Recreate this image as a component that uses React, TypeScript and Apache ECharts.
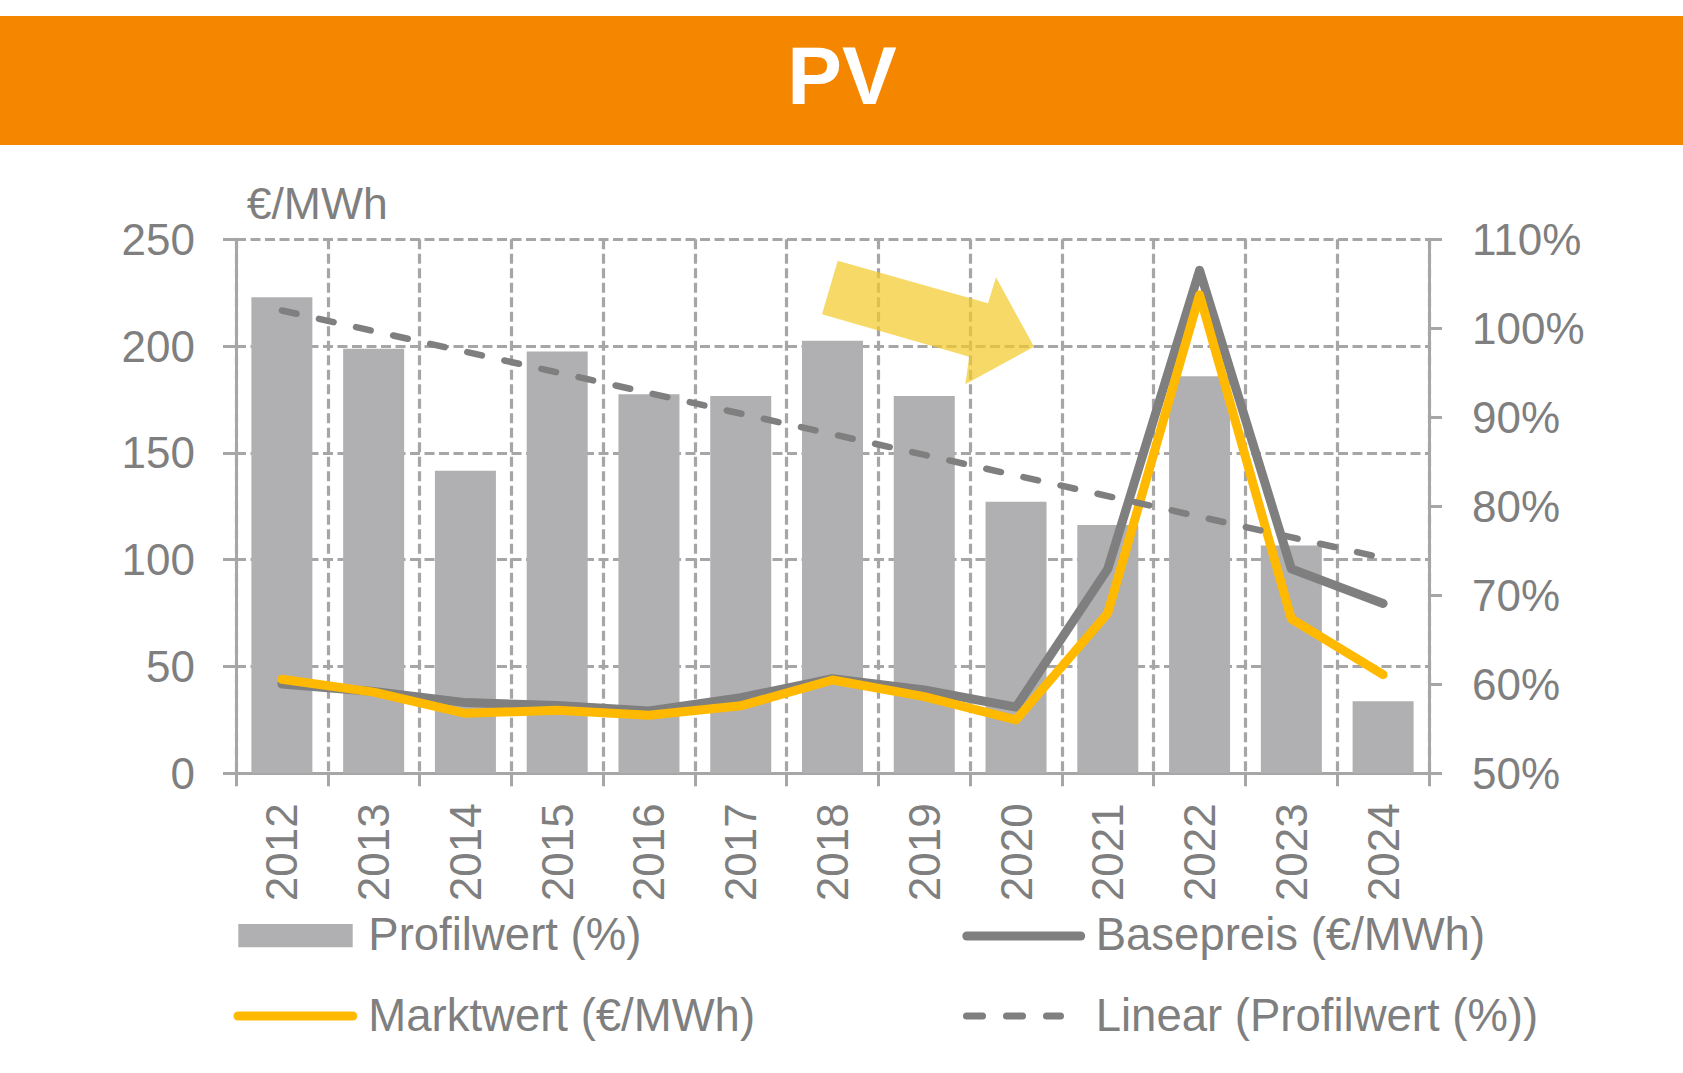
import React, { useEffect, useRef } from "react";
import * as echarts from "echarts";

// ---------- data ----------
const years = ["2012", "2013", "2014", "2015", "2016", "2017", "2018", "2019", "2020", "2021", "2022", "2023", "2024"];
const profilwert = [103.5, 97.7, 84.0, 97.4, 92.6, 92.4, 98.6, 92.4, 80.5, 77.9, 94.6, 75.6, 58.1];
const basepreis = [41.8, 38.3, 33.1, 31.8, 29.2, 35.4, 44.3, 39.0, 31.0, 95.7, 235.5, 95.7, 79.5];
const marktwert = [44.0, 38.0, 28.1, 29.5, 27.2, 31.6, 43.7, 35.9, 25.0, 75.0, 224.0, 72.3, 46.2];
// linear trend of Profilwert, read at first and last year
const trendStart = 102.0;
const trendEnd = 74.2;
// axis scales
const leftMin = 0, leftMax = 250, leftStep = 50;
const rightMin = 50, rightMax = 110, rightStep = 10;

const axisGray = "#A6A6A6";
const textGray = "#7F7F7F";
const barGray = "#B0B0B2";
const lineGray = "#7F7F7F";
const gold = "#FFB900";
const orange = "#F58700";
const FONT = "'Liberation Sans', Arial, sans-serif";
const GRID_DASH = [10, 4.5];

function buildOption(): any {
  const txt = (text: string, x: number, y: number, size = 45.5, extra: any = {}) => ({
    type: "text",
    x,
    y,
    z: 20,
    style: {
      text,
      fill: textGray,
      fontSize: size,
      fontFamily: FONT,
      verticalAlign: "middle",
      align: "left",
      ...extra,
    },
  });
  return {
    animation: false,
    backgroundColor: "#ffffff",
    grid: { left: 236, right: 254, top: 239.3, bottom: 299.7, containLabel: false, outerBoundsMode: "none" },
    xAxis: {
      type: "category",
      data: years,
      boundaryGap: true,
      axisLine: { show: true, onZero: false, lineStyle: { color: axisGray, width: 3 } },
      axisTick: { show: true, length: 13, interval: 0, lineStyle: { color: axisGray, width: 3 } },
      axisLabel: { rotate: 90, margin: 30, interval: 0, color: textGray, fontSize: 44, fontFamily: FONT },
      splitLine: { show: true, interval: 0, lineStyle: { color: axisGray, width: 3.2, type: GRID_DASH } },
    },
    yAxis: [
      {
        type: "value",
        position: "left",
        min: leftMin,
        max: leftMax,
        interval: leftStep,
        axisLine: { show: true, onZero: false, lineStyle: { color: axisGray, width: 3 } },
        axisTick: { show: true, length: 13, lineStyle: { color: axisGray, width: 3 } },
        axisLabel: { margin: 41, color: textGray, fontSize: 44, fontFamily: FONT },
        splitLine: { show: true, lineStyle: { color: axisGray, width: 3.2, type: GRID_DASH } },
      },
      {
        type: "value",
        position: "right",
        min: rightMin,
        max: rightMax,
        interval: rightStep,
        axisLine: { show: true, onZero: false, lineStyle: { color: axisGray, width: 3 } },
        axisTick: { show: true, length: 13, lineStyle: { color: axisGray, width: 3 } },
        axisLabel: { margin: 43, color: textGray, fontSize: 44, fontFamily: FONT, formatter: "{value}%" },
        splitLine: { show: false },
      },
    ],
    series: [
      {
        name: "Profilwert (%)",
        type: "bar",
        yAxisIndex: 1,
        data: profilwert,
        barWidth: 61,
        clip: true,
        itemStyle: { color: barGray },
        silent: true,
      },
      {
        name: "Basepreis (€/MWh)",
        type: "line",
        yAxisIndex: 0,
        data: basepreis,
        symbol: "none",
        lineStyle: { color: lineGray, width: 9, cap: "round", join: "round" },
        silent: true,
      },
      {
        name: "Marktwert (€/MWh)",
        type: "line",
        yAxisIndex: 0,
        data: marktwert,
        symbol: "none",
        lineStyle: { color: gold, width: 9, cap: "round", join: "round" },
        silent: true,
      },
      {
        name: "Linear (Profilwert (%))",
        type: "line",
        yAxisIndex: 1,
        data: [
          [years[0], trendStart],
          [years[years.length - 1], trendEnd],
        ],
        symbol: "none",
        lineStyle: { color: lineGray, width: 6.5, type: [15, 23], cap: "round" },
        silent: true,
      },
    ],
    graphic: [
      { type: "rect", z: 0, shape: { x: 0, y: 16, width: 1683, height: 129 }, style: { fill: orange } },
      {
        type: "text",
        x: 842,
        y: 75,
        z: 20,
        style: {
          text: "PV",
          fill: "#ffffff",
          fontSize: 82,
          fontWeight: "bold",
          fontFamily: FONT,
          align: "center",
          verticalAlign: "middle",
        },
      },
      txt("€/MWh", 246.7, 203.3, 44.5),
      {
        type: "polygon",
        z: 30,
        shape: {
          points: [
            [837.7, 260.7],
            [988, 303.3],
            [996, 277.3],
            [1034, 346.7],
            [965.3, 384.3],
            [969.3, 356.7],
            [822, 314.3],
          ],
        },
        style: { fill: "#F2CB2C", opacity: 0.72 },
      },
      // legend
      { type: "rect", z: 20, shape: { x: 238.3, y: 924, width: 114.4, height: 23.3 }, style: { fill: barGray } },
      txt("Profilwert (%)", 368.3, 934.2),
      {
        type: "line",
        z: 20,
        shape: { x1: 238, y1: 1016, x2: 352.8, y2: 1016 },
        style: { stroke: gold, lineWidth: 9, lineCap: "round" },
      },
      txt("Marktwert (€/MWh)", 368.3, 1015.8),
      {
        type: "line",
        z: 20,
        shape: { x1: 966.8, y1: 936, x2: 1080.7, y2: 936 },
        style: { stroke: lineGray, lineWidth: 9, lineCap: "round" },
      },
      txt("Basepreis (€/MWh)", 1095.7, 934.2),
      {
        type: "line",
        z: 20,
        shape: { x1: 966.5, y1: 1016, x2: 1060.5, y2: 1016 },
        style: { stroke: lineGray, lineWidth: 7, lineCap: "round", lineDash: [16, 24] },
      },
      txt("Linear (Profilwert (%))", 1095.7, 1015.8),
    ],
  };
}

export default function App() {
  const ref = useRef<HTMLDivElement>(null);
  useEffect(() => {
    if (!ref.current) return;
    const chart = echarts.init(ref.current, null, { renderer: "svg" });
    chart.setOption(buildOption());
    return () => chart.dispose();
  }, []);
  return (
    <div
      ref={ref}
      style={{ position: "absolute", left: 0, top: 0, width: 1683, height: 1073, background: "#ffffff" }}
    />
  );
}
